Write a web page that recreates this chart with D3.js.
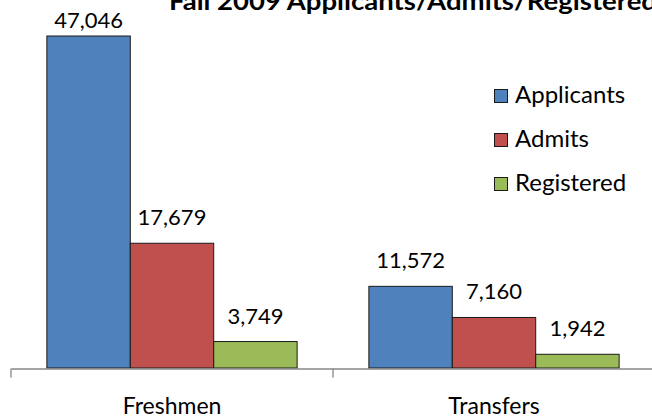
<!DOCTYPE html>
<html>
<head>
<meta charset="utf-8">
<script src="https://cdn.jsdelivr.net/npm/d3@7"></script>
<style>
  body { margin: 0; background: #fff; }
  svg text { font-family: Lato, "Open Sans", sans-serif; fill: #000; }
</style>
</head>
<body>
<div id="chart"></div>
<script>
// chart data
const categories = ["Freshmen", "Transfers"]
const seriesNames = ["Applicants", "Admits", "Registered"]
const applicants = [47046, 11572]
const admits = [17679, 7160]
const registered = [3749, 1942]
const colors = ["#4F81BD", "#C0504D", "#9BBB59"]
const title = "Fall 2009 Applicants/Admits/Registered"

const width = 652, height = 420
const baseline = 368

const svg = d3.select("#chart").append("svg")
    .attr("width", width)
    .attr("height", height)

/** x scale over categories */
const x0 = d3.scaleBand()
    .domain(categories)
    .range([11, 655])
    .paddingInner(0)
    .paddingOuter(0)

/** x scale for series inside a category */
const x1 = d3.scaleBand()
    .domain(seriesNames)
    .range([0, x0.bandwidth()])
    .paddingOuter(0.43)

const y = d3.scaleLinear()
    .domain([0, 50000])
    .range([baseline, baseline - 332 * 50000 / 47046])

const values = [applicants, admits, registered]
const rows = []
categories.forEach((c, ci) => {
    seriesNames.forEach((s, si) => {
        rows.push({ cat: c, series: s, value: values[si][ci], color: colors[si] })
    })
})

// bars
svg.append("g")
    .selectAll("rect")
    .data(rows)
    .enter()
    .append("rect")
    .attr("x", d => x0(d.cat) + x1(d.series))
    .attr("y", d => y(d.value))
    .attr("width", x1.bandwidth())
    .attr("height", d => y(0) - y(d.value))
    .attr("fill", d => d.color)
    .attr("stroke", "#1a1a1a")
    .attr("stroke-width", 1)

// value labels (the tallest one is kept inside the plot area)
svg.append("g")
    .selectAll("text")
    .data(rows)
    .enter()
    .append("text")
    .attr("x", d => x0(d.cat) + x1(d.series) + x1.bandwidth() / 2)
    .attr("y", d => Math.max(y(d.value) - 18, 28))
    .attr("text-anchor", "middle")
    .style("font-size", "22px")
    .text(d => d3.format(",")(d.value))

// x axis
const xAxis = d3.axisBottom(x0).tickSize(0).tickFormat("")
const axisG = svg.append("g")
    .attr("transform", `translate(0,${baseline + 0.5})`)
    .call(xAxis)
axisG.select(".domain").attr("stroke", "#868686").attr("stroke-width", 1.3)
axisG.selectAll(".boundary")
    .data(x0.domain().concat(["end"]))
    .enter()
    .append("line")
    .attr("x1", (d, i) => 11 + i * x0.step())
    .attr("x2", (d, i) => 11 + i * x0.step())
    .attr("y1", 0)
    .attr("y2", 9)
    .attr("stroke", "#868686")
    .attr("stroke-width", 1.3)

svg.append("g")
    .selectAll("text")
    .data(categories)
    .enter()
    .append("text")
    .attr("x", d => x0(d) + x0.bandwidth() / 2)
    .attr("y", 414)
    .attr("text-anchor", "middle")
    .style("font-size", "23px")
    .text(d => d)

// title (runs off the right edge, like the original)
svg.append("text")
    .attr("x", 169)
    .attr("y", 10)
    .attr("textLength", 488)
    .attr("lengthAdjust", "spacingAndGlyphs")
    .style("font-size", "24px")
    .style("font-weight", "bold")
    .text(title)

// legend
const legend = svg.append("g")
    .selectAll("g")
    .data(seriesNames)
    .enter()
    .append("g")
    .attr("transform", (d, i) => `translate(494.5,${89.5 + i * 44})`)
legend.append("rect")
    .attr("width", 13)
    .attr("height", 13)
    .attr("fill", (d, i) => colors[i])
    .attr("stroke", "#1a1a1a")
legend.append("text")
    .attr("x", 20.5)
    .attr("y", 13)
    .style("font-size", "24px")
    .text(d => d)
</script>
</body>
</html>
